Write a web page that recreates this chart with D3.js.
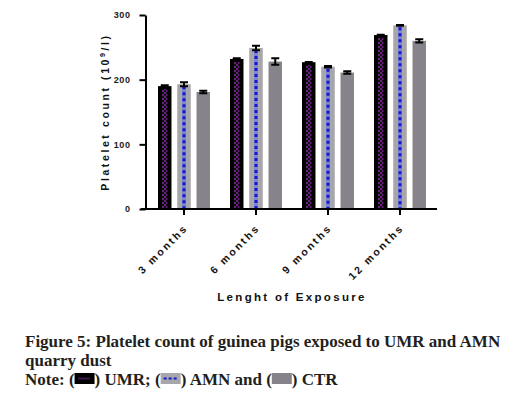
<!DOCTYPE html>
<html>
<head>
<meta charset="utf-8">
<script src="https://cdn.jsdelivr.net/npm/d3@7"></script>
<style>
  body { margin: 0; background: #fff; }
  svg { display: block; }
</style>
</head>
<body>
<div id="chart"></div>
<script>
// data
const groups = ["3 months", "6 months", "9 months", "12 months"];
const series = ["UMR", "AMN", "CTR"];
const umr = [190, 232, 227, 269];
const amn = [193, 249, 220, 284];
const ctr = [181, 228, 211, 260];
const umrErr = [1.5, 1, 0.5, 0.5];
const amnErr = [3, 3.5, 1, 0.5];
const ctrErr = [2, 5, 2, 2.5];
const yTicks = [0, 100, 200, 300];

const W = 529, H = 393;
const svg = d3.select("#chart").append("svg")
    .attr("width", W).attr("height", H);

const defs = svg.append("defs");
const chk = defs.append("pattern")
    .attr("id", "checker")
    .attr("patternUnits", "userSpaceOnUse")
    .attr("width", 4).attr("height", 4);
chk.append("rect").attr("width", 4).attr("height", 4).attr("fill", "#111");
chk.append("rect").attr("width", 2).attr("height", 2).attr("fill", "#6b1f86");
chk.append("rect").attr("x", 2).attr("y", 2).attr("width", 2).attr("height", 2).attr("fill", "#6b1f86");

const rows = groups.map((g, i) => ({
    group: g,
    bars: [
        {key: "UMR", v: umr[i], e: umrErr[i]},
        {key: "AMN", v: amn[i], e: amnErr[i]},
        {key: "CTR", v: ctr[i], e: ctrErr[i]}
    ]
}));

// scales
const x0 = d3.scaleBand().domain(groups).range([148, 436]);
const x1 = d3.scaleBand().domain(series).range([0, x0.bandwidth()])
    .paddingInner(0.3).paddingOuter(0.52);
const y = d3.scaleLinear().domain([0, 300]).range([209, 15]);

// bars
const g = svg.append("g").selectAll("g").data(rows).join("g")
    .attr("transform", d => `translate(${x0(d.group)},0)`);

g.each(function(d) {
    const sel = d3.select(this);
    d.bars.forEach(b => {
        const bx = x1(b.key), bw = x1.bandwidth();
        const top = y(b.v), h = y(0) - y(b.v);
        if (b.key === "UMR") {
            sel.append("rect").attr("x", bx).attr("y", top).attr("width", bw).attr("height", h).attr("fill", "#000");
            sel.append("rect").attr("x", bx + 4).attr("y", top + 3).attr("width", bw - 8).attr("height", h - 3)
                .attr("fill", "url(#checker)");
        } else if (b.key === "AMN") {
            sel.append("rect").attr("x", bx).attr("y", top).attr("width", bw).attr("height", h).attr("fill", "#a7a6aa");
            sel.append("line").attr("x1", bx + bw / 2).attr("x2", bx + bw / 2)
                .attr("y1", top + 2).attr("y2", y(0))
                .attr("stroke", "#7d86d0").attr("stroke-width", 4);
            sel.append("line").attr("x1", bx + bw / 2).attr("x2", bx + bw / 2)
                .attr("y1", top + 2).attr("y2", y(0))
                .attr("stroke", "#1414d8").attr("stroke-width", 3)
                .attr("stroke-dasharray", "3,3");
        } else {
            sel.append("rect").attr("x", bx).attr("y", top).attr("width", bw).attr("height", h).attr("fill", "#86848a");
        }
        // error bar
        const cx = bx + bw / 2;
        sel.append("path")
            .attr("d", `M${cx - 4},${y(b.v + b.e)}H${cx + 4}M${cx},${y(b.v + b.e)}V${y(b.v - b.e)}M${cx - 4},${y(b.v - b.e)}H${cx + 4}`)
            .attr("stroke", "#000").attr("stroke-width", 2).attr("fill", "none");
    });
});

// axes
const yAxis = svg.append("g").attr("transform", "translate(145.5,0)")
    .call(d3.axisLeft(y).tickValues(yTicks).tickSize(6).tickSizeOuter(0).tickPadding(9));
yAxis.select(".domain").attr("stroke-width", 2);
yAxis.selectAll(".tick line").attr("stroke-width", 2);
yAxis.selectAll("text")
    .style("font-family", "'Liberation Sans', Arial, sans-serif")
    .style("font-weight", "bold").style("font-size", "9px")
    .style("letter-spacing", "0.6px").attr("fill", "#1a1a1a");

const xAxis = svg.append("g").attr("transform", "translate(0,209)")
    .call(d3.axisBottom(x0).tickSize(6).tickSizeOuter(0).tickPadding(0));
xAxis.select(".domain").attr("d", "M141,0H437").attr("stroke-width", 2.2);
xAxis.selectAll(".tick line").attr("stroke-width", 2);
xAxis.selectAll("text")
    .style("font-family", "'Liberation Sans', Arial, sans-serif")
    .style("font-weight", "bold").style("font-size", "10.5px")
    .style("letter-spacing", "2.3px").attr("fill", "#111")
    .attr("text-anchor", "end")
    .attr("y", 0)
    .attr("dy", "0.35em")
    .attr("transform", "translate(2,17) rotate(-45)");

// axis titles
const yl = svg.append("text")
    .attr("transform", "translate(109,112) rotate(-90)")
    .attr("text-anchor", "middle")
    .style("font-family", "'Liberation Sans', Arial, sans-serif")
    .style("font-weight", "bold").style("font-size", "10.5px")
    .style("letter-spacing", "2.6px").attr("fill", "#111");
yl.append("tspan").text("Platelet count (10");
yl.append("tspan").attr("dy", -4).style("font-size", "7px").text("9");
yl.append("tspan").attr("dy", 4).text("/l)");

svg.append("text")
    .attr("x", 292).attr("y", 301)
    .attr("text-anchor", "middle")
    .style("font-family", "'Liberation Sans', Arial, sans-serif")
    .style("font-weight", "bold").style("font-size", "11.5px")
    .style("letter-spacing", "2.3px").attr("fill", "#111")
    .text("Lenght of Exposure");

// caption
const capStyle = s => s.style("font-family", "'Liberation Serif', 'Times New Roman', serif")
    .style("font-weight", "bold").style("font-size", "17px").attr("fill", "#231f20");
capStyle(svg.append("text").attr("x", 25).attr("y", 347)
    .text("Figure 5: Platelet count of guinea pigs exposed to UMR and AMN"));
capStyle(svg.append("text").attr("x", 25).attr("y", 366).text("quarry dust"));

const notes = ["Note: (", ") UMR; (", ") AMN and (", ") CTR"];
let nx = 25;
notes.forEach((t, i) => {
    const el = capStyle(svg.append("text").attr("x", nx).attr("y", 385).text(t));
    nx += el.node().getComputedTextLength();
    if (i < 3) {
        const sw = svg.append("g").attr("transform", `translate(${nx},373)`);
        if (i === 0) {
            sw.append("rect").attr("width", 20).attr("height", 11).attr("fill", "#000");
            sw.append("line").attr("x1", 4).attr("x2", 16).attr("y1", 5.5).attr("y2", 5.5)
                .attr("stroke", "#7a2a9a").attr("stroke-width", 2).attr("stroke-dasharray", "1,1");
        } else if (i === 1) {
            sw.append("rect").attr("width", 20).attr("height", 11).attr("fill", "#a7a6aa");
            sw.append("line").attr("x1", 3).attr("x2", 17).attr("y1", 5.5).attr("y2", 5.5)
                .attr("stroke", "#1414d8").attr("stroke-width", 2).attr("stroke-dasharray", "3,2");
        } else {
            sw.append("rect").attr("width", 20).attr("height", 11).attr("fill", "#86848a");
        }
        nx += 20;
    }
});
</script>
</body>
</html>
